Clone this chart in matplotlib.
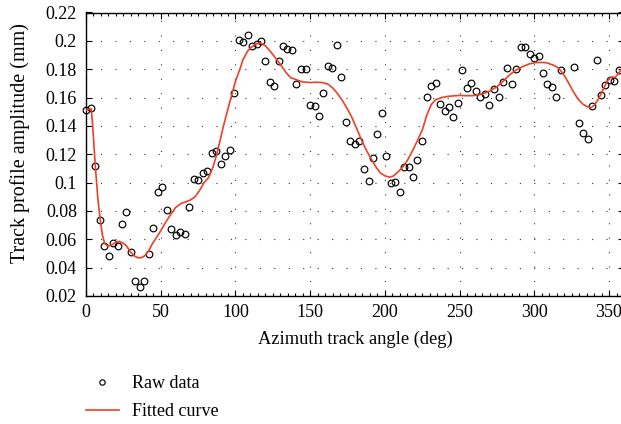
import matplotlib
matplotlib.use("Agg")
import matplotlib.pyplot as plt
from matplotlib.ticker import MultipleLocator

plt.rcParams['font.family'] = ['Liberation Serif', 'DejaVu Serif']

# raw data points (deg, mm)
raw_angle = [0, 3.3, 6.2, 9.4, 12.3, 15.3, 18.3, 21.2, 24.2, 27.1, 30.2, 33.1, 36.1, 39.1,
             42.2, 45.1, 48, 51, 53.9, 57.2, 60.2, 63, 66, 69, 72, 75.1, 78, 81.1, 84,
             86.9, 90.2, 93.1, 96.3, 99.2, 102.3, 105.2, 108.1, 111.2, 114.1, 117, 120.1,
             123, 125.9, 129, 131.9, 134.8, 137.9, 140.8, 143.9, 147, 149.9, 153.1, 156,
             158.9, 162, 164.9, 168, 170.9, 173.8, 176.9, 180, 182.9, 186, 189.2, 192, 195,
             198, 201, 203.9, 207, 209.9, 212.8, 215.9, 218.8, 221.8, 224.8, 227.9, 230.8,
             233.9, 236.8, 240, 242.8, 245.7, 248.8, 251.7, 254.8, 257.8, 260.7, 263.8,
             266.9, 269.8, 272.9, 276.1, 278.9, 281.9, 285, 287.9, 290.8, 293.9, 296.8,
             299.7, 302.8, 305.9, 308.7, 311.8, 314.6, 317.9, 326.8, 329.7, 332.7, 335.8,
             338.7, 341.8, 344.7, 347.6, 350.7, 353.6, 356.6]
raw_amp = [0.151, 0.1525, 0.112, 0.0736, 0.0556, 0.0483, 0.0572, 0.055, 0.0706, 0.0791,
           0.0509, 0.0308, 0.0265, 0.0303, 0.0494, 0.0678, 0.0937, 0.0972, 0.081, 0.0673,
           0.0632, 0.0655, 0.064, 0.0831, 0.1028, 0.1019, 0.1066, 0.1082, 0.121, 0.1226,
           0.1132, 0.1188, 0.1231, 0.1635, 0.2005, 0.1993, 0.204, 0.1965, 0.1981, 0.2002,
           0.1857, 0.1713, 0.1685, 0.1857, 0.1965, 0.1941, 0.1932, 0.1694, 0.1802, 0.1802,
           0.1545, 0.1542, 0.1467, 0.1632, 0.1823, 0.1805, 0.1974, 0.1745, 0.1424, 0.1296,
           0.1273, 0.1291, 0.1096, 0.101, 0.1171, 0.1341, 0.1493, 0.1188, 0.0996, 0.1006,
           0.0932, 0.1113, 0.1113, 0.1042, 0.116, 0.1297, 0.1605, 0.168, 0.1704, 0.1553,
           0.1504, 0.1532, 0.1464, 0.1562, 0.1791, 0.1666, 0.1701, 0.1645, 0.1607, 0.1624,
           0.1544, 0.1659, 0.1607, 0.1711, 0.181, 0.1699, 0.1802, 0.1955, 0.1958, 0.1904,
           0.1876, 0.189, 0.1772, 0.1693, 0.1677, 0.1602, 0.1796, 0.1818, 0.1419, 0.1348,
           0.1311, 0.154, 0.1868, 0.1619, 0.1692, 0.1727, 0.1719, 0.1791]

# fitted curve
fit_angle = [0, 2, 3.5, 4.5, 5.5, 6.5, 8, 9.5, 11, 12.5, 14.5, 16, 18, 20, 22, 24.5, 27,
             29.5, 32, 34.5, 37, 39.5, 42, 44.5, 47, 50, 53, 56, 60, 64, 67, 70, 73, 76,
             79, 82, 85, 87.5, 90, 92, 96, 100, 103, 105, 108, 110, 114, 117, 120, 123,
             126, 130, 134, 137, 141, 145, 150, 154, 158, 162, 165, 168, 172, 175, 178,
             182, 185, 188, 191, 194, 197, 200, 203, 206, 209, 213, 216, 219, 222, 225,
             228, 231, 234, 238, 242, 246, 250, 254, 258, 262, 266, 270, 274.5, 279,
             283.4, 287.9, 292.3, 296.8, 301.2, 305, 308, 312.4, 315.7, 319.1, 322.4,
             325.8, 329.1, 332.5, 335.8, 338.1, 340.3, 343.2, 345.9, 348.1, 350, 352,
             354, 356, 358, 360]
fit_amp = [0.151, 0.1518, 0.152, 0.140, 0.123, 0.108, 0.088, 0.074, 0.063, 0.057, 0.0552,
           0.0555, 0.0565, 0.058, 0.0585, 0.0576, 0.0555, 0.0515, 0.0485, 0.047, 0.047,
           0.0485, 0.052, 0.057, 0.061, 0.066, 0.0715, 0.0765, 0.0825, 0.0855, 0.0865,
           0.0878, 0.09, 0.0945, 0.1, 0.1035, 0.111, 0.12, 0.131, 0.14, 0.156, 0.1715,
           0.18, 0.1866, 0.1925, 0.195, 0.1979, 0.1984, 0.1965, 0.193, 0.189, 0.1835,
           0.1775, 0.174, 0.1725, 0.171, 0.1706, 0.1708, 0.1706, 0.1694, 0.1668, 0.1632,
           0.1572, 0.1518, 0.1458, 0.136, 0.1285, 0.122, 0.1165, 0.111, 0.1068, 0.1048,
           0.1038, 0.1048, 0.1078, 0.1122, 0.1175, 0.1235, 0.1302, 0.137, 0.1475, 0.155,
           0.1585, 0.160, 0.1608, 0.1612, 0.1615, 0.1613, 0.1613, 0.1618, 0.1628, 0.1645,
           0.1673, 0.1713, 0.176, 0.1795, 0.1819, 0.1838, 0.1847, 0.1848, 0.1846, 0.183,
           0.1812, 0.1772, 0.1713, 0.1647, 0.1591, 0.1553, 0.1534, 0.1529, 0.1548, 0.1595,
           0.1654, 0.1701, 0.1735, 0.1745, 0.1742, 0.1765, 0.1795, 0.182]

xticks = [0, 50, 100, 150, 200, 250, 300, 350]
yticks = [0.02, 0.04, 0.06, 0.08, 0.1, 0.12, 0.14, 0.16, 0.18, 0.2, 0.22]
ytick_labels = ['0.02', '0.04', '0.06', '0.08', '0.1', '0.12', '0.14', '0.16', '0.18', '0.2', '0.22']

fig = plt.figure(figsize=(6.21, 4.24), dpi=100)
# axes run a little past the right edge of the picture, like the original
ax = fig.add_axes([86 / 621, 1 - 296 / 424, (624 - 86) / 621, (296 - 12.5) / 424])

ax.plot(raw_angle, raw_amp, 'o', mfc='none', mec='black', ms=4.8, mew=0.85,
        label='Raw data', zorder=3, clip_on=False)
ax.plot(fit_angle, fit_amp, '-', color='#ee4026', lw=1.2, label='Fitted curve', zorder=4)

ax.set_xlim(0, 360)
ax.set_ylim(0.02, 0.22)
ax.set_xticks(xticks)
ax.set_yticks(yticks)
ax.set_yticklabels(ytick_labels)
ax.xaxis.set_minor_locator(MultipleLocator(5))
ax.tick_params(which='both', direction='in', top=True, right=True, labelsize=13, width=0.8)
ax.tick_params(which='major', length=4)
ax.tick_params(which='minor', length=2)
ax.tick_params(axis='x', pad=5.5)
ax.tick_params(axis='y', pad=6.5)
for s in ax.spines.values():
    s.set_linewidth(1.0)

ax.grid(True, which='major', color='#333333', lw=0.8, linestyle=(0, (1, 12)))

ax.set_xlabel('Azimuth track angle (deg)', fontsize=13.3, labelpad=7)
ax.set_ylabel('Track profile amplitude (mm)', fontsize=14.5, labelpad=6)
ax.yaxis.set_label_coords(-0.105, 0.54)

fig.legend(loc='upper left', bbox_to_anchor=(86 / 621, 1 - 375 / 424), frameon=False,
           fontsize=13, handlelength=1.8, handletextpad=0.75, labelspacing=0.62,
           borderpad=0, borderaxespad=0, markerscale=0.8)

fig.savefig('out.png', dpi=100)
